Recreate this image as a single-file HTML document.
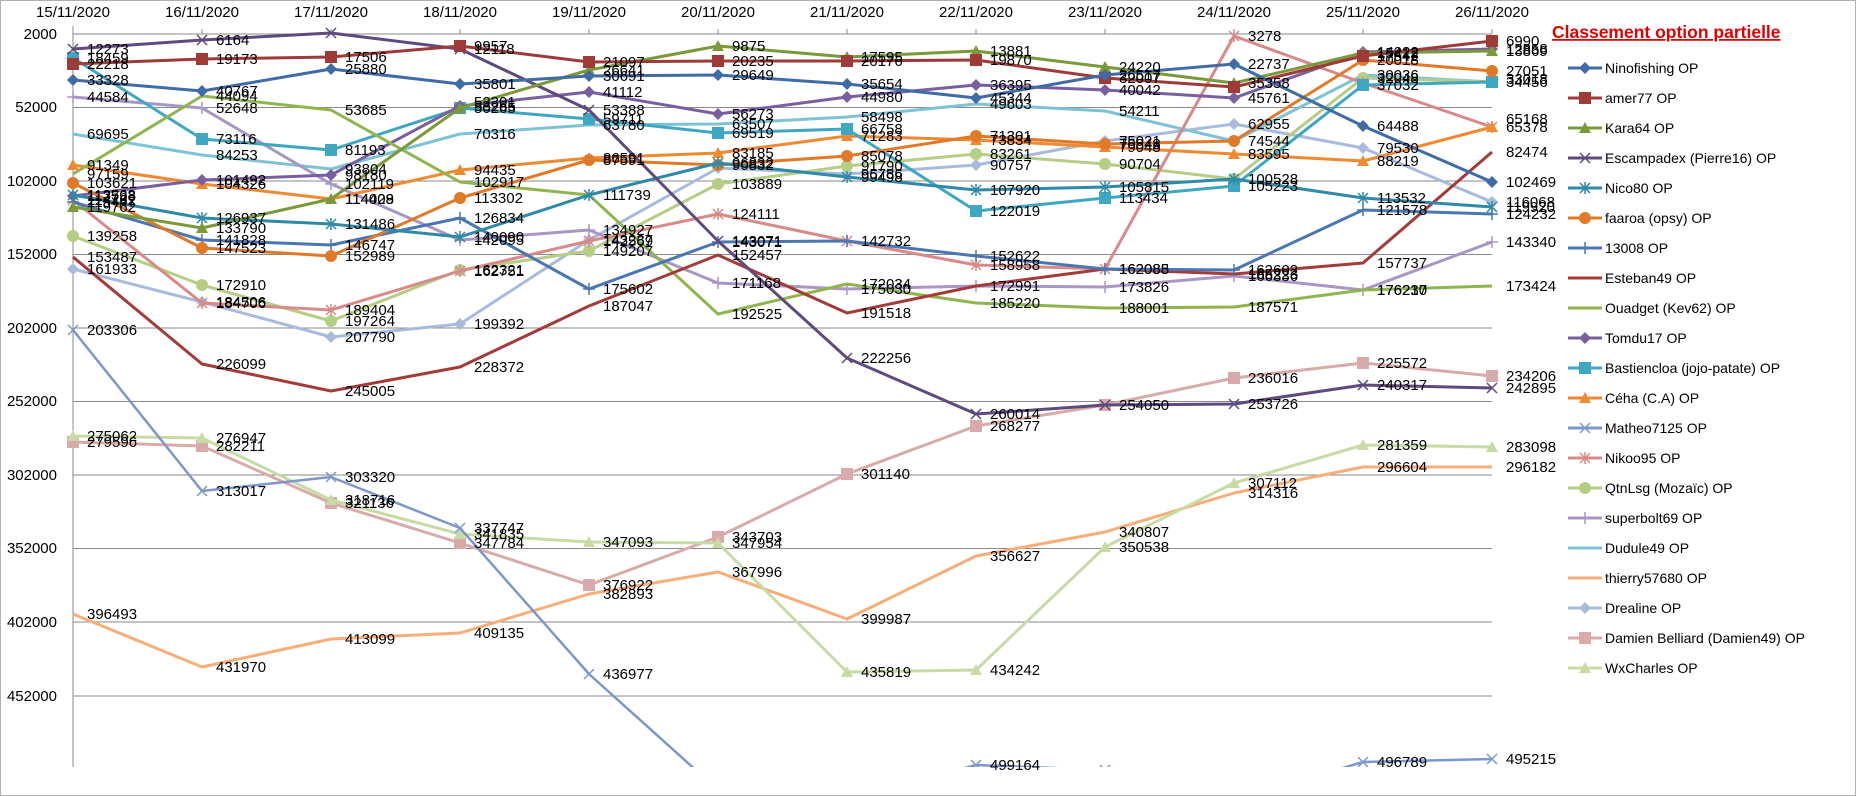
<!DOCTYPE html>
<html><head><meta charset="utf-8"><style>
html,body{margin:0;padding:0;background:#fff;}
svg{display:block;font-family:"Liberation Sans",sans-serif;}
</style></head><body>
<svg width="1856" height="796" viewBox="0 0 1856 796" xmlns="http://www.w3.org/2000/svg">
<defs>
<clipPath id="pc"><rect x="55" y="20" width="1460" height="747"/></clipPath>
<marker id="m1" markerUnits="userSpaceOnUse" markerWidth="14" markerHeight="14" refX="7" refY="7"><path d="M7 1L13 7L7 13L1 7Z" fill="#3F6CA6"/></marker>
<marker id="m2" markerUnits="userSpaceOnUse" markerWidth="14" markerHeight="14" refX="7" refY="7"><rect x="1" y="1" width="12" height="12" fill="#9E3A38"/></marker>
<marker id="m3" markerUnits="userSpaceOnUse" markerWidth="14" markerHeight="14" refX="7" refY="7"><path d="M7 1L13 12L1 12Z" fill="#7A9A3A"/></marker>
<marker id="m4" markerUnits="userSpaceOnUse" markerWidth="14" markerHeight="14" refX="7" refY="7"><path d="M2 2L12 12M12 2L2 12" stroke="#5F4A7E" stroke-width="1.5"/></marker>
<marker id="m5" markerUnits="userSpaceOnUse" markerWidth="14" markerHeight="14" refX="7" refY="7"><path d="M2 2L12 12M12 2L2 12M7 1V13" stroke="#2E8AA6" stroke-width="1.5"/></marker>
<marker id="m6" markerUnits="userSpaceOnUse" markerWidth="14" markerHeight="14" refX="7" refY="7"><circle cx="7" cy="7" r="6" fill="#E07A28"/></marker>
<marker id="m7" markerUnits="userSpaceOnUse" markerWidth="14" markerHeight="14" refX="7" refY="7"><path d="M1 7H13M7 1V13" stroke="#4A77B4" stroke-width="1.5"/></marker>
<marker id="m10" markerUnits="userSpaceOnUse" markerWidth="14" markerHeight="14" refX="7" refY="7"><path d="M7 1L13 7L7 13L1 7Z" fill="#7A5FA0"/></marker>
<marker id="m11" markerUnits="userSpaceOnUse" markerWidth="14" markerHeight="14" refX="7" refY="7"><rect x="1" y="1" width="12" height="12" fill="#3FA7C1"/></marker>
<marker id="m12" markerUnits="userSpaceOnUse" markerWidth="14" markerHeight="14" refX="7" refY="7"><path d="M7 1L13 12L1 12Z" fill="#F08A30"/></marker>
<marker id="m13" markerUnits="userSpaceOnUse" markerWidth="14" markerHeight="14" refX="7" refY="7"><path d="M2 2L12 12M12 2L2 12" stroke="#7C97CC" stroke-width="1.5"/></marker>
<marker id="m14" markerUnits="userSpaceOnUse" markerWidth="14" markerHeight="14" refX="7" refY="7"><path d="M2 2L12 12M12 2L2 12M7 1V13" stroke="#D78A88" stroke-width="1.5"/></marker>
<marker id="m15" markerUnits="userSpaceOnUse" markerWidth="14" markerHeight="14" refX="7" refY="7"><circle cx="7" cy="7" r="6" fill="#B5CE84"/></marker>
<marker id="m16" markerUnits="userSpaceOnUse" markerWidth="14" markerHeight="14" refX="7" refY="7"><path d="M1 7H13M7 1V13" stroke="#A897C4" stroke-width="1.5"/></marker>
<marker id="m19" markerUnits="userSpaceOnUse" markerWidth="14" markerHeight="14" refX="7" refY="7"><path d="M7 1L13 7L7 13L1 7Z" fill="#A9BBDD"/></marker>
<marker id="m20" markerUnits="userSpaceOnUse" markerWidth="14" markerHeight="14" refX="7" refY="7"><rect x="1" y="1" width="12" height="12" fill="#D8ABAA"/></marker>
<marker id="m21" markerUnits="userSpaceOnUse" markerWidth="14" markerHeight="14" refX="7" refY="7"><path d="M7 1L13 12L1 12Z" fill="#C8DBA4"/></marker>
</defs>
<rect x="0.5" y="0.5" width="1855" height="795" fill="#fff" stroke="#b0b0b0"/>
<!-- grid -->
<g stroke="#8a8a8a" stroke-width="1">
<line x1="73" y1="34" x2="1492" y2="34"/><line x1="73" y1="107.5" x2="1492" y2="107.5"/><line x1="73" y1="181" x2="1492" y2="181"/><line x1="73" y1="254.5" x2="1492" y2="254.5"/><line x1="73" y1="328" x2="1492" y2="328"/><line x1="73" y1="401.5" x2="1492" y2="401.5"/><line x1="73" y1="475" x2="1492" y2="475"/><line x1="73" y1="548.5" x2="1492" y2="548.5"/><line x1="73" y1="622" x2="1492" y2="622"/><line x1="73" y1="696" x2="1492" y2="696"/>
<line x1="73" y1="26" x2="73" y2="767"/>
<line x1="202" y1="29" x2="202" y2="34"/><line x1="331" y1="29" x2="331" y2="34"/><line x1="460" y1="29" x2="460" y2="34"/><line x1="589" y1="29" x2="589" y2="34"/><line x1="718" y1="29" x2="718" y2="34"/><line x1="847" y1="29" x2="847" y2="34"/><line x1="976" y1="29" x2="976" y2="34"/><line x1="1105" y1="29" x2="1105" y2="34"/><line x1="1234" y1="29" x2="1234" y2="34"/><line x1="1363" y1="29" x2="1363" y2="34"/><line x1="1492" y1="29" x2="1492" y2="34"/>
</g>
<g font-size="15" fill="#000" text-anchor="middle">
<text x="73" y="17">15/11/2020</text><text x="202" y="17">16/11/2020</text><text x="331" y="17">17/11/2020</text><text x="460" y="17">18/11/2020</text><text x="589" y="17">19/11/2020</text><text x="718" y="17">20/11/2020</text><text x="847" y="17">21/11/2020</text><text x="976" y="17">22/11/2020</text><text x="1105" y="17">23/11/2020</text><text x="1234" y="17">24/11/2020</text><text x="1363" y="17">25/11/2020</text><text x="1492" y="17">26/11/2020</text>
</g>
<g font-size="15" fill="#000" text-anchor="end">
<text x="57" y="39">2000</text><text x="57" y="112">52000</text><text x="57" y="186">102000</text><text x="57" y="259">152000</text><text x="57" y="333">202000</text><text x="57" y="406">252000</text><text x="57" y="480">302000</text><text x="57" y="553">352000</text><text x="57" y="627">402000</text><text x="57" y="701">452000</text>
</g>
<!-- series -->
<g fill="none" stroke-width="3" stroke-linejoin="round" clip-path="url(#pc)">
<polyline stroke="#F8AE78" points="73,614 202,667 331,639 460,633 589,594 718,572 847,619 976,556 1105,532 1234,493 1363,467 1492,467"/>
<polyline stroke="#D8ABAA" marker-start="url(#m20)" marker-mid="url(#m20)" marker-end="url(#m20)" points="73,442 202,446 331,503 460,543 589,585 718,537 847,474 976,426 1105,405 1234,378 1363,363 1492,376"/>
<polyline stroke="#C8DBA4" marker-start="url(#m21)" marker-mid="url(#m21)" marker-end="url(#m21)" points="73,436 202,438 331,500 460,534 589,542 718,543 847,672 976,670 1105,547 1234,483 1363,445 1492,447"/>
<polyline stroke="#7C97CC" stroke-width="2.5" marker-start="url(#m13)" marker-mid="url(#m13)" marker-end="url(#m13)" points="73,330 202,491 331,477 460,528 589,674 718,790 847,800 976,765 1105,770 1234,800 1363,762 1492,759"/>
<polyline stroke="#A9BBDD" marker-start="url(#m19)" marker-mid="url(#m19)" marker-end="url(#m19)" points="73,269 202,302 331,337 460,324 589,240 718,168 847,174 976,165 1105,141 1234,124 1363,148 1492,202"/>
<polyline stroke="#7EC2D6" points="73,134 202,155 331,169 460,134 589,125 718,124 847,117 976,104 1105,111 1234,141 1363,75 1492,82"/>
<polyline stroke="#A897C4" marker-start="url(#m16)" marker-mid="url(#m16)" marker-end="url(#m16)" points="73,97 202,108 331,184 460,240 589,230 718,283 847,289 976,286 1105,287 1234,276 1363,290 1492,242"/>
<polyline stroke="#B5CE84" marker-start="url(#m15)" marker-mid="url(#m15)" marker-end="url(#m15)" points="73,236 202,285 331,321 460,270 589,251 718,184 847,166 976,154 1105,164 1234,179 1363,78 1492,82"/>
<polyline stroke="#D78A88" marker-start="url(#m14)" marker-mid="url(#m14)" marker-end="url(#m14)" points="73,200 202,303 331,310 460,271 589,241 718,214 847,241 976,265 1105,269 1234,36 1363,83 1492,127"/>
<polyline stroke="#F08A30" marker-start="url(#m12)" marker-mid="url(#m12)" marker-end="url(#m12)" points="73,165 202,184 331,199 460,170 589,158 718,153 847,136 976,140 1105,147 1234,154 1363,161 1492,127"/>
<polyline stroke="#3FA7C1" marker-start="url(#m11)" marker-mid="url(#m11)" marker-end="url(#m11)" points="73,58 202,139 331,150 460,108 589,119 718,133 847,129 976,211 1105,198 1234,186 1363,85 1492,82"/>
<polyline stroke="#7A5FA0" marker-start="url(#m10)" marker-mid="url(#m10)" marker-end="url(#m10)" points="73,196 202,180 331,175 460,106 589,92 718,114 847,97 976,85 1105,90 1234,98 1363,52 1492,49"/>
<polyline stroke="#8FB54C" points="73,174 202,96 331,110 460,182 589,195 718,314 847,284 976,303 1105,308 1234,307 1363,290 1492,286"/>
<polyline stroke="#A33B39" points="73,257 202,364 331,391 460,367 589,306 718,255 847,313 976,286 1105,269 1234,274 1363,263 1492,152"/>
<polyline stroke="#4A77B4" marker-start="url(#m7)" marker-mid="url(#m7)" marker-end="url(#m7)" points="73,202 202,240 331,245 460,218 589,289 718,242 847,241 976,256 1105,269 1234,270 1363,210 1492,214"/>
<polyline stroke="#E07A28" marker-start="url(#m6)" marker-mid="url(#m6)" marker-end="url(#m6)" points="73,183 202,248 331,256 460,198 589,160 718,165 847,156 976,136 1105,144 1234,141 1363,60 1492,71"/>
<polyline stroke="#2E8AA6" marker-start="url(#m5)" marker-mid="url(#m5)" marker-end="url(#m5)" points="73,195 202,218 331,224 460,237 589,195 718,163 847,177 976,190 1105,187 1234,179 1363,198 1492,207"/>
<polyline stroke="#5F4A7E" marker-start="url(#m4)" marker-mid="url(#m4)" marker-end="url(#m4)" points="73,49 202,40 331,33 460,49 589,110 718,241 847,358 976,414 1105,405 1234,404 1363,385 1492,388"/>
<polyline stroke="#7A9A3A" marker-start="url(#m3)" marker-mid="url(#m3)" marker-end="url(#m3)" points="73,207 202,228 331,199 460,108 589,70 718,46 847,57 976,51 1105,67 1234,83 1363,53 1492,51"/>
<polyline stroke="#9E3A38" marker-start="url(#m2)" marker-mid="url(#m2)" marker-end="url(#m2)" points="73,64 202,59 331,57 460,46 589,62 718,61 847,61 976,60 1105,78 1234,87 1363,56 1492,41"/>
<polyline stroke="#3F6CA6" marker-start="url(#m1)" marker-mid="url(#m1)" marker-end="url(#m1)" points="73,80 202,91 331,69 460,84 589,76 718,75 847,84 976,98 1105,75 1234,64 1363,126 1492,182"/>
</g>
<!-- data labels -->
<g font-size="15" fill="#000">
<text x="87" y="85">33328</text><text x="216" y="96">40767</text><text x="345" y="74">25880</text><text x="474" y="89">35801</text><text x="603" y="81">30691</text><text x="732" y="80">29649</text><text x="861" y="89">35654</text><text x="990" y="103">45344</text><text x="1119" y="80">26517</text><text x="1248" y="69">22737</text><text x="1377" y="131">64488</text><text x="1506" y="187">102469</text>
<text x="87" y="69">22218</text><text x="216" y="64">19173</text><text x="345" y="62">17506</text><text x="474" y="51">9957</text><text x="603" y="67">21097</text><text x="732" y="66">20235</text><text x="861" y="66">20176</text><text x="990" y="65">19870</text><text x="1119" y="83">32007</text><text x="1377" y="61">17542</text><text x="1506" y="46">6990</text>
<text x="87" y="212">119762</text><text x="216" y="233">133790</text><text x="345" y="204">114009</text><text x="474" y="113">50265</text><text x="603" y="75">26641</text><text x="732" y="51">9875</text><text x="861" y="62">17595</text><text x="990" y="56">13881</text><text x="1119" y="72">24220</text><text x="1248" y="88">35358</text><text x="1377" y="58">15412</text><text x="1506" y="56">13869</text>
<text x="87" y="54">12273</text><text x="216" y="45">6164</text><text x="474" y="54">12118</text><text x="603" y="115">53388</text><text x="732" y="246">143071</text><text x="861" y="363">222256</text><text x="990" y="419">260014</text><text x="1119" y="410">254050</text><text x="1248" y="409">253726</text><text x="1377" y="390">240317</text><text x="1506" y="393">242895</text>
<text x="87" y="200">113568</text><text x="216" y="223">126937</text><text x="345" y="229">131486</text><text x="474" y="242">140090</text><text x="603" y="200">111739</text><text x="732" y="168">96832</text><text x="861" y="182">99498</text><text x="990" y="195">107920</text><text x="1119" y="192">105815</text><text x="1248" y="184">100528</text><text x="1377" y="203">113532</text><text x="1506" y="212">119920</text>
<text x="87" y="188">103621</text><text x="216" y="253">147523</text><text x="345" y="261">152989</text><text x="474" y="203">113302</text><text x="603" y="165">87591</text><text x="732" y="170">90832</text><text x="861" y="161">85078</text><text x="990" y="141">71301</text><text x="1119" y="149">75848</text><text x="1248" y="146">74544</text><text x="1377" y="65">20018</text><text x="1506" y="76">27051</text>
<text x="87" y="207">115447</text><text x="216" y="245">141828</text><text x="345" y="250">146747</text><text x="474" y="223">126834</text><text x="603" y="294">175602</text><text x="732" y="247">143071</text><text x="861" y="246">142732</text><text x="990" y="261">152622</text><text x="1119" y="274">162088</text><text x="1248" y="275">162602</text><text x="1377" y="215">121578</text><text x="1506" y="219">124232</text>
<text x="87" y="262">153487</text><text x="216" y="369">226099</text><text x="345" y="396">245005</text><text x="474" y="372">228372</text><text x="603" y="311">187047</text><text x="732" y="260">152457</text><text x="861" y="318">191518</text><text x="990" y="291">172991</text><text x="1119" y="274">162085</text><text x="1248" y="279">165223</text><text x="1377" y="268">157737</text><text x="1506" y="157">82474</text>
<text x="87" y="179">97159</text><text x="216" y="101">44094</text><text x="345" y="115">53685</text><text x="474" y="187">102917</text><text x="732" y="319">192525</text><text x="861" y="289">172034</text><text x="990" y="308">185220</text><text x="1119" y="313">188001</text><text x="1248" y="312">187571</text><text x="1377" y="295">176230</text><text x="1506" y="291">173424</text>
<text x="87" y="201">112733</text><text x="216" y="185">101492</text><text x="345" y="180">98180</text><text x="474" y="111">53265</text><text x="603" y="97">41112</text><text x="732" y="119">56273</text><text x="861" y="102">44980</text><text x="990" y="90">36395</text><text x="1119" y="95">40042</text><text x="1248" y="103">45761</text><text x="1377" y="57">14222</text><text x="1506" y="54">12858</text>
<text x="87" y="63">18459</text><text x="216" y="144">73116</text><text x="345" y="155">81193</text><text x="474" y="107">52301</text><text x="603" y="124">59711</text><text x="732" y="138">69519</text><text x="861" y="134">66758</text><text x="990" y="216">122019</text><text x="1119" y="203">113434</text><text x="1248" y="191">105223</text><text x="1377" y="90">37032</text><text x="1506" y="87">34456</text>
<text x="87" y="170">91349</text><text x="216" y="189">104326</text><text x="345" y="204">114428</text><text x="474" y="175">94435</text><text x="603" y="163">86591</text><text x="732" y="158">83185</text><text x="861" y="141">71283</text><text x="990" y="145">73834</text><text x="1119" y="152">79048</text><text x="1248" y="159">83595</text><text x="1377" y="166">88219</text><text x="1506" y="132">65378</text>
<text x="87" y="335">203306</text><text x="216" y="496">313017</text><text x="345" y="482">303320</text><text x="474" y="533">337747</text><text x="603" y="679">436977</text><text x="990" y="770">499164</text><text x="1377" y="767">496789</text><text x="1506" y="764">495215</text>
<text x="87" y="205">114762</text><text x="216" y="308">184706</text><text x="345" y="315">189404</text><text x="474" y="276">162751</text><text x="603" y="246">142569</text><text x="732" y="219">124111</text><text x="990" y="270">158958</text><text x="1248" y="41">3278</text><text x="1506" y="124">65168</text>
<text x="87" y="241">139258</text><text x="216" y="290">172910</text><text x="345" y="326">197264</text><text x="474" y="275">162321</text><text x="603" y="256">149207</text><text x="732" y="189">103889</text><text x="861" y="171">91790</text><text x="990" y="159">83261</text><text x="1119" y="169">90704</text><text x="1377" y="83">32048</text>
<text x="87" y="102">44584</text><text x="216" y="113">52648</text><text x="345" y="189">102119</text><text x="474" y="245">142095</text><text x="603" y="235">134927</text><text x="732" y="288">171168</text><text x="861" y="294">175030</text><text x="1119" y="292">173826</text><text x="1248" y="281">166336</text><text x="1377" y="295">176217</text><text x="1506" y="247">143340</text>
<text x="87" y="139">69695</text><text x="216" y="160">84253</text><text x="345" y="174">93804</text><text x="474" y="139">70316</text><text x="603" y="130">63780</text><text x="732" y="129">63507</text><text x="861" y="122">58498</text><text x="990" y="109">49603</text><text x="1119" y="116">54211</text><text x="1377" y="80">30036</text><text x="1506" y="84">33018</text>
<text x="87" y="619">396493</text><text x="216" y="672">431970</text><text x="345" y="644">413099</text><text x="474" y="638">409135</text><text x="603" y="599">382893</text><text x="732" y="577">367996</text><text x="861" y="624">399987</text><text x="990" y="561">356627</text><text x="1119" y="537">340807</text><text x="1248" y="498">314316</text><text x="1377" y="472">296604</text><text x="1506" y="472">296182</text>
<text x="87" y="274">161933</text><text x="216" y="307">184506</text><text x="345" y="342">207790</text><text x="474" y="329">199392</text><text x="603" y="245">143237</text><text x="861" y="179">95786</text><text x="990" y="170">90757</text><text x="1119" y="146">75021</text><text x="1248" y="129">62955</text><text x="1377" y="153">79530</text><text x="1506" y="207">116068</text>
<text x="87" y="447">279596</text><text x="216" y="451">282211</text><text x="345" y="508">321136</text><text x="474" y="548">347784</text><text x="603" y="590">376922</text><text x="732" y="542">343703</text><text x="861" y="479">301140</text><text x="990" y="431">268277</text><text x="1248" y="383">236016</text><text x="1377" y="368">225572</text><text x="1506" y="381">234206</text>
<text x="87" y="441">275062</text><text x="216" y="443">276947</text><text x="345" y="505">318716</text><text x="474" y="539">341835</text><text x="603" y="547">347093</text><text x="732" y="548">347954</text><text x="861" y="677">435819</text><text x="990" y="675">434242</text><text x="1119" y="552">350538</text><text x="1248" y="488">307112</text><text x="1377" y="450">281359</text><text x="1506" y="452">283098</text>
</g>
<!-- title -->
<text x="1552" y="38" font-size="17.5" font-weight="bold" fill="#E00000" text-decoration="underline">Classement option partielle</text>
<!-- legend -->
<g stroke-width="3">
<line x1="1568" y1="68" x2="1602" y2="68" stroke="#3F6CA6" marker-mid="url(#m1)"/><path d="M1585 62L1591 68L1585 74L1579 68Z" fill="#3F6CA6" stroke="none"/>
<line x1="1568" y1="98" x2="1602" y2="98" stroke="#9E3A38"/><rect x="1579" y="92" width="12" height="12" fill="#9E3A38" stroke="none"/>
<line x1="1568" y1="128" x2="1602" y2="128" stroke="#7A9A3A"/><path d="M1585 122L1591 133L1579 133Z" fill="#7A9A3A" stroke="none"/>
<line x1="1568" y1="158" x2="1602" y2="158" stroke="#5F4A7E"/><path d="M1580 153L1590 163M1590 153L1580 163" stroke="#5F4A7E" stroke-width="1.5"/>
<line x1="1568" y1="188" x2="1602" y2="188" stroke="#2E8AA6"/><path d="M1580 183L1590 193M1590 183L1580 193M1585 182V194" stroke="#2E8AA6" stroke-width="1.5"/>
<line x1="1568" y1="218" x2="1602" y2="218" stroke="#E07A28"/><circle cx="1585" cy="218" r="6" fill="#E07A28" stroke="none"/>
<line x1="1568" y1="248" x2="1602" y2="248" stroke="#4A77B4"/><path d="M1585 242V254" stroke="#4A77B4" stroke-width="1.5"/>
<line x1="1568" y1="278" x2="1602" y2="278" stroke="#A33B39"/>
<line x1="1568" y1="308" x2="1602" y2="308" stroke="#8FB54C"/>
<line x1="1568" y1="338" x2="1602" y2="338" stroke="#7A5FA0"/><path d="M1585 332L1591 338L1585 344L1579 338Z" fill="#7A5FA0" stroke="none"/>
<line x1="1568" y1="368" x2="1602" y2="368" stroke="#3FA7C1"/><rect x="1579" y="362" width="12" height="12" fill="#3FA7C1" stroke="none"/>
<line x1="1568" y1="398" x2="1602" y2="398" stroke="#F08A30"/><path d="M1585 392L1591 403L1579 403Z" fill="#F08A30" stroke="none"/>
<line x1="1568" y1="428" x2="1602" y2="428" stroke="#7C97CC"/><path d="M1580 423L1590 433M1590 423L1580 433" stroke="#7C97CC" stroke-width="1.5"/>
<line x1="1568" y1="458" x2="1602" y2="458" stroke="#D78A88"/><path d="M1580 453L1590 463M1590 453L1580 463M1585 452V464" stroke="#D78A88" stroke-width="1.5"/>
<line x1="1568" y1="488" x2="1602" y2="488" stroke="#B5CE84"/><circle cx="1585" cy="488" r="6" fill="#B5CE84" stroke="none"/>
<line x1="1568" y1="518" x2="1602" y2="518" stroke="#A897C4"/><path d="M1585 512V524" stroke="#A897C4" stroke-width="1.5"/>
<line x1="1568" y1="548" x2="1602" y2="548" stroke="#7EC2D6"/>
<line x1="1568" y1="578" x2="1602" y2="578" stroke="#F8AE78"/>
<line x1="1568" y1="608" x2="1602" y2="608" stroke="#A9BBDD"/><path d="M1585 602L1591 608L1585 614L1579 608Z" fill="#A9BBDD" stroke="none"/>
<line x1="1568" y1="638" x2="1602" y2="638" stroke="#D8ABAA"/><rect x="1579" y="632" width="12" height="12" fill="#D8ABAA" stroke="none"/>
<line x1="1568" y1="668" x2="1602" y2="668" stroke="#C8DBA4"/><path d="M1585 662L1591 673L1579 673Z" fill="#C8DBA4" stroke="none"/>
</g>
<g font-size="14" fill="#000">
<text x="1605" y="73">Ninofishing OP</text>
<text x="1605" y="103">amer77 OP</text>
<text x="1605" y="133">Kara64  OP</text>
<text x="1605" y="163">Escampadex (Pierre16) OP</text>
<text x="1605" y="193">Nico80 OP</text>
<text x="1605" y="223">faaroa (opsy) OP</text>
<text x="1605" y="253">13008 OP</text>
<text x="1605" y="283">Esteban49 OP</text>
<text x="1605" y="313">Ouadget (Kev62) OP</text>
<text x="1605" y="343">Tomdu17 OP</text>
<text x="1605" y="373">Bastiencloa (jojo-patate) OP</text>
<text x="1605" y="403">Céha (C.A) OP</text>
<text x="1605" y="433">Matheo7125 OP</text>
<text x="1605" y="463">Nikoo95 OP</text>
<text x="1605" y="493">QtnLsg (Mozaïc) OP</text>
<text x="1605" y="523">superbolt69 OP</text>
<text x="1605" y="553">Dudule49 OP</text>
<text x="1605" y="583">thierry57680 OP</text>
<text x="1605" y="613">Drealine OP</text>
<text x="1605" y="643">Damien Belliard (Damien49) OP</text>
<text x="1605" y="673">WxCharles OP</text>
</g>
</svg>
</body></html>
